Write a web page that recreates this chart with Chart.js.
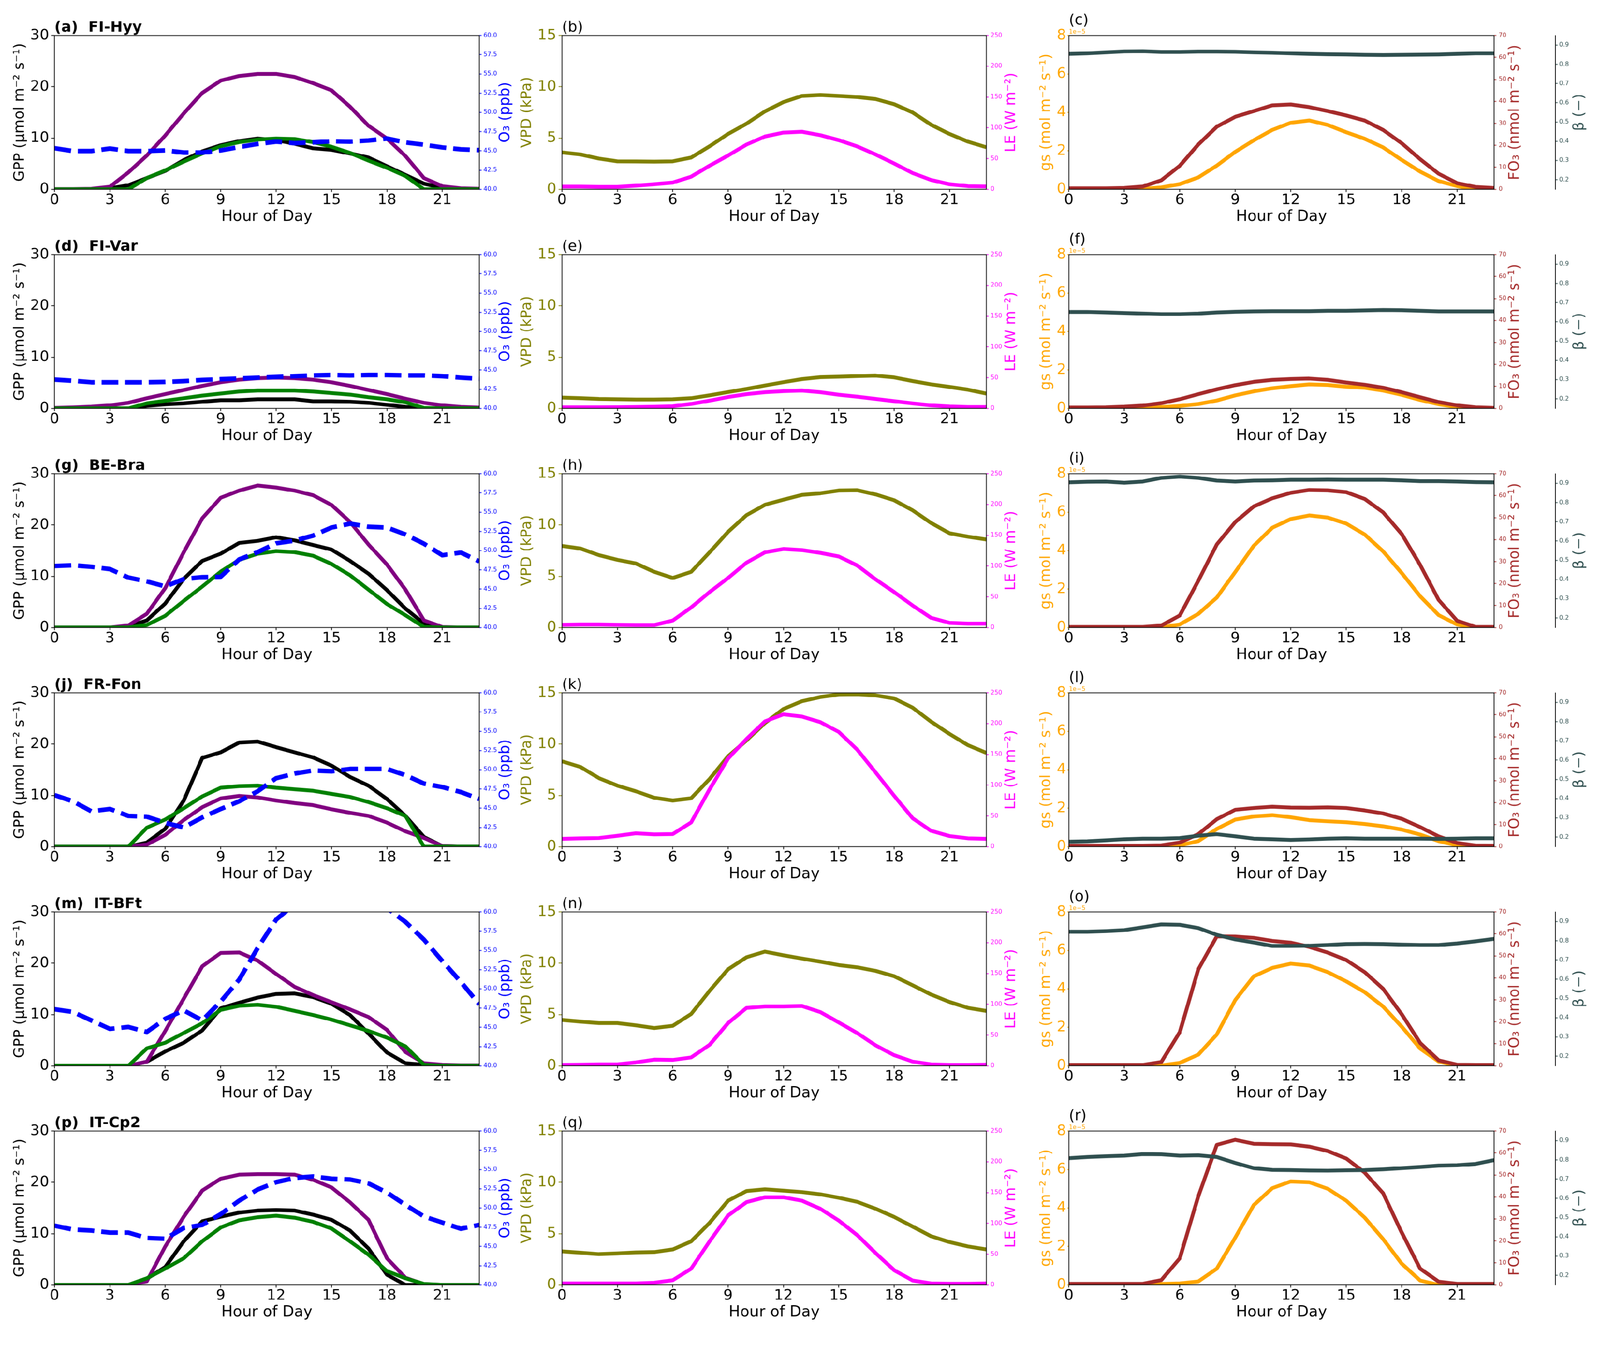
<!DOCTYPE html>
<html>
<head>
<meta charset="utf-8">
<script src="https://cdn.jsdelivr.net/npm/chart.js@4.4.1/dist/chart.umd.min.js"></script>
<style>
  html, body { margin: 0; padding: 0; background: #fff; overflow: hidden; }
  #fig { position: relative; width: 4205px; height: 3508px; overflow: hidden; background: #fff; transform-origin: 0 0; }
  #fig canvas { position: absolute; }
</style>
</head>
<body>
<div id="fig"></div>
<script>
/* Diurnal cycles per site: GPP + O3, VPD + LE, gs + FO3 + beta */

const HOURS = [0, 1, 2, 3, 4, 5, 6, 7, 8, 9, 10, 11, 12, 13, 14, 15, 16, 17, 18, 19, 20, 21, 22, 23];
const X_TICKS = [0, 3, 6, 9, 12, 15, 18, 21];
const SITES = ["FI-Hyy", "FI-Var", "BE-Bra", "FR-Fon", "IT-BFt", "IT-Cp2"];
const LETTERS = [["a", "b", "c"], ["d", "e", "f"], ["g", "h", "i"], ["j", "k", "l"], ["m", "n", "o"], ["p", "q", "r"]];

const GPP_TICKS = [0, 10, 20, 30];
const O3_TICKS = [40, 42.5, 45, 47.5, 50, 52.5, 55, 57.5, 60];
const VPD_TICKS = [0, 5, 10, 15];
const LE_TICKS = [0, 50, 100, 150, 200, 250];
const GS_TICKS = [0, 2, 4, 6, 8];
const FO3_TICKS = [0, 10, 20, 30, 40, 50, 60, 70];
const BETA_TICKS = [0.2, 0.3, 0.4, 0.5, 0.6, 0.7, 0.8, 0.9];

// GPP (umol m-2 s-1), one row per site in SITES order
const GPP_BLACK = [
  [0, 0, 0, 0.2, 0.8, 2.2, 3.6, 5.7, 7.4, 8.6, 9.4, 9.9, 9.6, 8.9, 8.0, 7.7, 7.0, 6.2, 4.5, 2.8, 1.1, 0.3, 0, 0],
  [0, 0, 0, 0, 0, 0.5, 0.8, 1.0, 1.3, 1.6, 1.6, 1.8, 1.8, 1.8, 1.4, 1.4, 1.3, 1.1, 0.7, 0.3, 0, 0, 0, 0],
  [0, 0, 0, 0, 0.2, 1.4, 4.7, 9.5, 13.0, 14.4, 16.5, 16.9, 17.6, 17.0, 16.1, 15.2, 13.0, 10.5, 7.3, 3.7, 0.8, 0, 0, 0],
  [0, 0, 0, 0, 0, 0.8, 3.5, 9.0, 17.3, 18.4, 20.3, 20.5, 19.4, 18.4, 17.4, 15.8, 13.6, 11.9, 9.3, 6.0, 1.9, 0.1, 0, 0],
  [0, 0, 0, 0, 0, 0.8, 2.8, 4.5, 6.9, 11.2, 12.3, 13.3, 14.0, 14.1, 13.4, 12.1, 9.9, 6.3, 2.6, 0.5, 0.2, 0, 0, 0],
  [0, 0, 0, 0, 0, 1.2, 3.5, 8.5, 12.4, 13.3, 14.1, 14.5, 14.6, 14.5, 13.7, 12.7, 10.6, 7.1, 2.0, 0, 0, 0, 0, 0],
];
const GPP_GREEN = [
  [0, 0, 0, 0, 0, 2.2, 3.7, 5.4, 7.0, 8.4, 9.2, 9.7, 9.9, 9.8, 9.2, 8.3, 7.1, 5.6, 4.2, 2.6, 0, 0, 0, 0],
  [0, 0, 0, 0, 0, 1.0, 1.5, 2.0, 2.5, 2.9, 3.3, 3.5, 3.5, 3.5, 3.3, 3.0, 2.7, 2.2, 1.8, 1.2, 0.1, 0, 0, 0],
  [0, 0, 0, 0, 0, 0.5, 2.3, 5.2, 8.0, 10.9, 13.2, 14.4, 14.9, 14.7, 14.0, 12.4, 10.2, 7.4, 4.6, 2.4, 0.1, 0, 0, 0],
  [0, 0, 0, 0, 0, 3.7, 5.3, 7.5, 9.8, 11.5, 11.8, 11.9, 11.5, 11.2, 10.9, 10.3, 9.7, 8.7, 7.5, 6.0, 0, 0, 0, 0],
  [0, 0, 0, 0, 0, 3.4, 4.5, 6.4, 8.3, 10.9, 11.7, 11.9, 11.5, 10.7, 9.9, 9.0, 7.9, 6.8, 5.5, 3.8, 0.2, 0, 0, 0],
  [0, 0, 0, 0, 0, 1.3, 3.2, 5.2, 8.5, 11.2, 12.6, 13.2, 13.5, 13.1, 12.3, 11.0, 8.5, 5.9, 2.7, 1.3, 0.2, 0, 0, 0],
];
const GPP_PURPLE = [
  [0.05, 0.05, 0.1, 0.5, 3.3, 6.6, 10.5, 14.8, 18.8, 21.2, 22.1, 22.5, 22.5, 21.9, 20.7, 19.3, 16.1, 12.4, 9.9, 6.5, 2.2, 0.6, 0.2, 0.1],
  [0.1, 0.2, 0.35, 0.6, 1.1, 2.0, 2.8, 3.6, 4.4, 5.1, 5.6, 5.9, 6.0, 5.9, 5.6, 5.1, 4.4, 3.6, 2.8, 1.9, 1.1, 0.6, 0.3, 0.15],
  [0, 0, 0, 0, 0.4, 2.7, 7.7, 14.7, 21.3, 25.3, 26.7, 27.7, 27.3, 26.7, 25.8, 23.9, 20.6, 16.2, 12.3, 7.4, 1.4, 0.1, 0, 0],
  [0, 0, 0, 0, 0, 0.4, 2.3, 5.2, 7.7, 9.4, 9.9, 9.6, 9.0, 8.5, 8.1, 7.3, 6.6, 6.0, 4.7, 3.0, 1.7, 0.1, 0, 0],
  [0, 0, 0, 0, 0, 0.8, 6.8, 13.1, 19.4, 22.0, 22.1, 20.5, 17.9, 15.4, 13.8, 12.4, 11.0, 9.5, 7.0, 2.7, 0.5, 0.2, 0.1, 0.1],
  [0, 0, 0, 0, 0, 0.7, 7.5, 13.3, 18.4, 20.7, 21.5, 21.6, 21.6, 21.5, 20.5, 19.0, 16.1, 12.7, 5.2, 1.4, 0.15, 0, 0, 0],
];
// O3 (ppb)
const O3 = [
  [45.35, 44.97, 44.97, 45.3, 44.97, 44.97, 45.06, 44.78, 44.78, 45.06, 45.5, 45.9, 46.2, 46.0, 46.1, 46.25, 46.2, 46.35, 46.6, 46.1, 45.8, 45.45, 45.2, 45.1],
  [43.75, 43.6, 43.4, 43.4, 43.4, 43.4, 43.45, 43.55, 43.7, 43.8, 43.9, 44.0, 44.1, 44.2, 44.3, 44.35, 44.3, 44.35, 44.35, 44.3, 44.3, 44.2, 44.0, 43.85],
  [48.0, 48.1, 47.9, 47.6, 46.5, 46.0, 45.35, 46.3, 46.55, 46.6, 48.85, 49.8, 50.95, 51.3, 51.95, 53.0, 53.5, 53.1, 53.0, 52.1, 50.9, 49.4, 49.75, 48.6],
  [46.7, 45.9, 44.6, 44.9, 44.0, 43.9, 43.1, 42.5, 43.8, 44.9, 45.9, 47.2, 48.9, 49.5, 49.9, 49.8, 50.1, 50.1, 50.1, 49.3, 48.2, 47.75, 47.1, 46.2],
  [47.35, 47.0, 45.9, 44.8, 45.05, 44.4, 46.1, 47.2, 45.9, 48.35, 51.2, 55.3, 59.0, 61.0, 62.5, 63.0, 63.0, 62.0, 60.5, 58.7, 56.4, 53.6, 50.9, 48.0],
  [47.7, 47.2, 47.07, 46.8, 46.8, 46.1, 46.0, 47.4, 47.8, 49.2, 50.95, 52.4, 53.35, 53.9, 54.1, 53.8, 53.7, 53.2, 52.0, 50.4, 48.9, 48.1, 47.3, 47.8],
];
// VPD (kPa)
const VPD = [
  [3.6, 3.4, 3.0, 2.73, 2.72, 2.7, 2.73, 3.1, 4.2, 5.4, 6.4, 7.6, 8.5, 9.1, 9.2, 9.1, 9.0, 8.8, 8.3, 7.5, 6.3, 5.4, 4.65, 4.1],
  [1.06, 1.0, 0.93, 0.9, 0.87, 0.87, 0.9, 1.0, 1.28, 1.6, 1.9, 2.24, 2.56, 2.86, 3.05, 3.1, 3.16, 3.2, 3.03, 2.67, 2.35, 2.1, 1.83, 1.45],
  [7.96, 7.7, 7.06, 6.6, 6.25, 5.43, 4.83, 5.43, 7.34, 9.33, 10.96, 11.97, 12.46, 12.93, 13.09, 13.36, 13.39, 12.98, 12.41, 11.43, 10.2, 9.19, 8.86, 8.59],
  [8.32, 7.77, 6.68, 5.95, 5.4, 4.77, 4.5, 4.72, 6.6, 8.81, 10.36, 12.05, 13.42, 14.18, 14.59, 14.84, 14.86, 14.75, 14.45, 13.55, 12.19, 10.99, 9.9, 9.14],
  [4.47, 4.31, 4.17, 4.17, 3.95, 3.68, 3.9, 5.05, 7.31, 9.41, 10.58, 11.13, 10.77, 10.45, 10.15, 9.82, 9.6, 9.25, 8.73, 7.85, 6.95, 6.22, 5.65, 5.35],
  [3.27, 3.14, 3.0, 3.07, 3.17, 3.2, 3.46, 4.25, 6.05, 8.21, 9.15, 9.32, 9.19, 9.05, 8.83, 8.5, 8.1, 7.42, 6.63, 5.69, 4.75, 4.18, 3.75, 3.46],
];
// LE (W m-2)
const LE = [
  [4.5, 4.5, 4, 4, 5.9, 8.3, 11, 20.6, 38.4, 55, 72.8, 85.8, 92.2, 93.6, 88, 79.9, 69.7, 56.6, 42, 26.5, 15.2, 8.3, 5.2, 4.7],
  [1.8, 1.8, 1.8, 2.0, 2.3, 2.7, 3.6, 7.3, 12.7, 18.6, 23.2, 26.4, 28.2, 29.1, 26.4, 22.3, 19.1, 15.5, 11.8, 8.2, 5.0, 3.2, 2.3, 2.3],
  [4.5, 5, 5, 4.5, 4.1, 4.1, 11.4, 32.7, 57.7, 80.5, 105.5, 122.3, 127.7, 125.9, 121.4, 115.5, 100.9, 78.2, 57.7, 35.9, 15.9, 7.7, 6.4, 6.4],
  [12.7, 13.6, 14.1, 17.7, 21.8, 20, 20.5, 39.5, 93.2, 143.2, 175, 203.6, 215, 211.4, 202.3, 186.4, 157.7, 120.5, 82.7, 46.4, 25.9, 17.3, 13.6, 12.7],
  [1.4, 1.8, 2.3, 2.3, 5.5, 10, 9.5, 13.6, 34.1, 69.5, 94.1, 96.4, 96.4, 97.3, 87.3, 70.5, 53.2, 33.2, 17.3, 6.8, 2.3, 1.4, 1.4, 1.8],
  [2.4, 2.4, 2.4, 2.4, 2.4, 3.6, 7.7, 26.4, 70.8, 112.9, 134.5, 142.4, 142.4, 136.9, 123.7, 104.5, 80.9, 51.6, 24, 7.2, 2.4, 1.9, 1.9, 2.4],
];
// gs in units of 1e-5 mol m-2 s-1
const GS_E5 = [
  [0, 0, 0, 0, 0.02, 0.1, 0.27, 0.62, 1.23, 1.95, 2.55, 3.09, 3.46, 3.58, 3.35, 2.97, 2.63, 2.18, 1.53, 0.92, 0.43, 0.17, 0, 0],
  [0, 0, 0, 0, 0.01, 0.07, 0.13, 0.23, 0.41, 0.68, 0.89, 1.05, 1.16, 1.25, 1.22, 1.13, 1.08, 0.93, 0.71, 0.44, 0.22, 0.07, 0.01, 0],
  [0, 0, 0, 0, 0, 0.01, 0.16, 0.71, 1.56, 2.89, 4.25, 5.19, 5.64, 5.83, 5.72, 5.41, 4.84, 3.96, 2.84, 1.63, 0.65, 0.16, 0, 0],
  [0, 0, 0, 0, 0, 0, 0.07, 0.29, 0.92, 1.41, 1.57, 1.64, 1.53, 1.38, 1.32, 1.27, 1.18, 1.06, 0.89, 0.63, 0.29, 0.07, 0, 0],
  [0, 0, 0, 0, 0, 0.02, 0.15, 0.58, 1.63, 3.42, 4.65, 5.09, 5.31, 5.21, 4.87, 4.39, 3.83, 3.08, 2.04, 0.9, 0.22, 0, 0, 0],
  [0, 0, 0, 0, 0, 0.05, 0.08, 0.18, 0.85, 2.46, 4.15, 5.03, 5.38, 5.34, 5.0, 4.38, 3.5, 2.38, 1.11, 0.23, 0, 0, 0, 0],
];
// FO3 (nmol m-2 s-1)
const FO3 = [
  [0.45, 0.45, 0.45, 0.65, 1.3, 4.1, 10.7, 20.4, 28.5, 33.0, 35.6, 38.2, 38.6, 37.4, 35.6, 33.6, 31.3, 27.0, 21.0, 13.7, 7.1, 2.8, 1.1, 0.6],
  [0.4, 0.4, 0.5, 0.8, 1.3, 2.4, 4.2, 6.5, 8.7, 10.6, 12.1, 13.0, 13.4, 13.6, 13.0, 11.8, 10.8, 9.4, 7.4, 5.1, 2.9, 1.4, 0.5, 0.25],
  [0.3, 0.3, 0.3, 0.3, 0.3, 0.9, 5.5, 21.3, 37.8, 48.0, 55.1, 58.8, 61.3, 62.6, 62.4, 61.6, 58.5, 52.4, 42.6, 28.5, 12.6, 3.1, 0.3, 0.3],
  [0.4, 0.4, 0.4, 0.4, 0.4, 0.6, 1.9, 5.7, 12.5, 16.8, 17.6, 18.2, 17.8, 17.7, 17.9, 17.6, 16.5, 15.1, 12.7, 8.9, 4.7, 1.7, 0.5, 0.4],
  [0.4, 0.4, 0.4, 0.4, 0.4, 1.7, 15.3, 43.9, 58.9, 58.8, 58.2, 56.8, 56.0, 54.1, 51.5, 48.1, 42.6, 35.0, 23.5, 10.4, 2.5, 0.5, 0.4, 0.4],
  [0.5, 0.5, 0.5, 0.5, 0.5, 2.2, 12.1, 40.3, 63.7, 66.0, 64.2, 64.0, 63.9, 62.9, 60.9, 57.5, 51.1, 41.7, 23.9, 7.4, 1.5, 0.5, 0.5, 0.5],
];
// beta (-)
const BETA = [
  [0.854, 0.857, 0.862, 0.867, 0.868, 0.864, 0.864, 0.866, 0.866, 0.865, 0.862, 0.86, 0.857, 0.854, 0.852, 0.851, 0.849, 0.848, 0.849, 0.85, 0.851, 0.854, 0.857, 0.857],
  [0.652, 0.652, 0.649, 0.646, 0.643, 0.64, 0.64, 0.643, 0.649, 0.653, 0.655, 0.656, 0.656, 0.656, 0.658, 0.658, 0.66, 0.662, 0.661, 0.658, 0.655, 0.655, 0.655, 0.655],
  [0.905, 0.908, 0.909, 0.903, 0.909, 0.928, 0.935, 0.928, 0.914, 0.909, 0.914, 0.915, 0.918, 0.918, 0.919, 0.918, 0.918, 0.918, 0.915, 0.911, 0.911, 0.909, 0.906, 0.905],
  [0.176, 0.178, 0.183, 0.189, 0.192, 0.192, 0.195, 0.207, 0.215, 0.204, 0.192, 0.189, 0.185, 0.188, 0.192, 0.194, 0.192, 0.192, 0.192, 0.192, 0.191, 0.192, 0.194, 0.194],
  [0.847, 0.847, 0.85, 0.855, 0.87, 0.885, 0.883, 0.866, 0.831, 0.807, 0.791, 0.773, 0.773, 0.774, 0.778, 0.783, 0.784, 0.783, 0.78, 0.778, 0.778, 0.786, 0.797, 0.81],
  [0.809, 0.815, 0.819, 0.822, 0.83, 0.829, 0.822, 0.824, 0.815, 0.784, 0.757, 0.748, 0.747, 0.745, 0.744, 0.746, 0.747, 0.751, 0.757, 0.763, 0.77, 0.772, 0.779, 0.799],
];

const C = {
  black: "#000000", green: "#008000", purple: "#800080", blue: "#0000ff",
  olive: "#808000", magenta: "#ff00ff", orange: "#ffa500", brown: "#a52a2a", slate: "#2f4f4f",
};

// page geometry (px, in the 4205 x 3508 figure frame)
const FIG_W = 4205;
const FIG_H = 3508;
const ROW_TOP = [93, 669, 1245, 1821, 2397, 2973];
const PLOT_H = 404;
const PAD_TOP = 90;
const X_AXIS_H = 93;
const COL_GPP = { left: 0, width: 1400 };
const COL_MET = { left: 1340, width: 1340 };
const COL_FLX = { left: 2690, width: 1515 };

// fit the figure to the real viewport if it is not exactly FIG_W x FIG_H
let fit = Math.min(window.innerWidth / FIG_W, window.innerHeight / FIG_H);
if (!(fit > 0) || Math.abs(fit - 1) < 0.002) fit = 1;
document.getElementById("fig").style.transform = `scale(${fit})`;
const DPR = (window.devicePixelRatio || 1) * fit;

Chart.defaults.font.family = "'DejaVu Sans', sans-serif";
Chart.defaults.color = "#000";

function line(values, axisId, color, width, dash) {
  return {
    data: HOURS.map((h, i) => ({ x: h, y: values[i] })),
    yAxisID: axisId,
    borderColor: color,
    borderWidth: width,
    borderDash: dash || [],
    borderJoinStyle: "round",
    pointRadius: 0,
    tension: 0,
    fill: false,
    clip: 0,
  };
}

function xAxis() {
  return {
    type: "linear", position: "bottom", min: 0, max: 23,
    afterBuildTicks: (s) => { s.ticks = X_TICKS.map((v) => ({ value: v })); },
    afterFit: (s) => { s.height = X_AXIS_H; },
    border: { display: false },
    grid: { drawOnChartArea: false, tickLength: 7, tickWidth: 2, tickColor: "#000" },
    ticks: { color: "#000", font: { size: 39, lineHeight: 1 }, padding: 2, maxRotation: 0, autoSkip: false, callback: (v) => String(v) },
    title: { display: true, text: "Hour of Day", color: "#000", font: { size: 40, lineHeight: 1 }, padding: 0 },
  };
}

function yAxis(position, min, max, tickVals, o) {
  return {
    type: "linear", position, min, max, weight: o.weight || 0,
    afterBuildTicks: (s) => { s.ticks = tickVals.map((v) => ({ value: v })); },
    afterFit: (s) => { s.width = o.width; },
    border: { display: !!o.spine, color: "#000", width: 2 },
    grid: { drawOnChartArea: false, tickLength: o.tickLen, tickWidth: 2, tickColor: o.color },
    ticks: { color: o.color, font: { size: o.size, lineHeight: 1 }, padding: o.pad, callback: o.fmt || ((v) => String(v)) },
    title: o.title
      ? { display: true, text: o.title, color: o.color, font: { size: 38, lineHeight: 1 }, padding: { top: o.titlePad, bottom: 0 } }
      : { display: false },
  };
}

function panelText(items, offsetX) {
  return {
    id: "panelText",
    afterDraw(chart) {
      const { ctx, chartArea: a } = chart;
      ctx.save();
      ctx.strokeStyle = "#000";
      ctx.lineWidth = 2;
      ctx.strokeRect(a.left, a.top, a.right - a.left, a.bottom - a.top);
      for (const t of items) {
        ctx.font = `${t.bold ? "bold " : ""}${t.size}px 'DejaVu Sans'`;
        ctx.fillStyle = t.color;
        if (t.rotate) {
          ctx.save();
          ctx.translate(t.x - offsetX, (a.top + a.bottom) / 2);
          ctx.rotate(-Math.PI / 2);
          ctx.textAlign = "center";
          ctx.textBaseline = "middle";
          ctx.fillText(t.text, 0, 0);
          ctx.restore();
        } else {
          ctx.textAlign = "left";
          ctx.textBaseline = "alphabetic";
          ctx.fillText(t.text, a.left, a.top - t.dy);
        }
      }
      ctx.restore();
    },
  };
}

function makeChart(col, row, datasets, scales, texts) {
  const h = PAD_TOP + PLOT_H + X_AXIS_H;
  const canvas = document.createElement("canvas");
  canvas.width = col.width;
  canvas.height = h;
  canvas.style.left = col.left + "px";
  canvas.style.top = (ROW_TOP[row] - PAD_TOP) + "px";
  canvas.style.width = col.width + "px";
  canvas.style.height = h + "px";
  document.getElementById("fig").appendChild(canvas);
  return new Chart(canvas, {
    type: "line",
    data: { datasets },
    options: {
      responsive: false,
      animation: false,
      devicePixelRatio: DPR,
      events: [],
      layout: { padding: { top: PAD_TOP, left: 0, right: 0, bottom: 0 } },
      plugins: { legend: { display: false }, tooltip: { enabled: false } },
      scales,
    },
    plugins: [panelText(texts, col.left)],
  });
}

function gppPanel(r) {
  const datasets = [
    line(O3[r], "yO3", C.blue, 12, [44, 18]),
    line(GPP_GREEN[r], "y", C.green, 10),
    line(GPP_PURPLE[r], "y", C.purple, 10),
    line(GPP_BLACK[r], "y", C.black, 10),
  ];
  const scales = {
    x: xAxis(),
    y: yAxis("left", 0, 30, GPP_TICKS, { width: 143, tickLen: 9, pad: 5, size: 39, color: "#000", title: "GPP (μmol m⁻² s⁻¹)", titlePad: 34 }),
    yO3: yAxis("right", 40, 60, O3_TICKS, { width: 141, tickLen: 6, pad: 5, size: 16, color: C.blue, fmt: (v) => v.toFixed(1) }),
  };
  const texts = [
    { text: `(${LETTERS[r][0]})  ${SITES[r]}`, bold: true, size: 39, color: "#000", dy: 10 },
    { text: "O₃ (ppb)", size: 38, color: C.blue, rotate: true, x: 1328 },
  ];
  makeChart(COL_GPP, r, datasets, scales, texts);
}

function metPanel(r) {
  const datasets = [
    line(LE[r], "yLE", C.magenta, 10),
    line(VPD[r], "y", C.olive, 10),
  ];
  const scales = {
    x: xAxis(),
    y: yAxis("left", 0, 15, VPD_TICKS, { width: 137, tickLen: 9, pad: 6, size: 39, color: C.olive, title: "VPD (kPa)", titlePad: 27 }),
    yLE: yAxis("right", 0, 250, LE_TICKS, { width: 88, tickLen: 6, pad: 5, size: 16, color: C.magenta }),
  };
  const texts = [
    { text: `(${LETTERS[r][1]})`, size: 39, color: "#000", dy: 10 },
    { text: "LE (W m⁻²)", size: 38, color: C.magenta, rotate: true, x: 2658 },
  ];
  makeChart(COL_MET, r, datasets, scales, texts);
}

function fluxPanel(r) {
  const datasets = [
    line(BETA[r], "yB", C.slate, 10),
    line(FO3[r], "yF", C.brown, 10),
    line(GS_E5[r], "y", C.orange, 10),
  ];
  const scales = {
    x: xAxis(),
    y: yAxis("left", 0, 8, GS_TICKS, { width: 119, tickLen: 4, pad: 3, size: 39, color: C.orange, title: "gs (mol m⁻² s⁻¹)", titlePad: 41 }),
    yF: yAxis("right", 0, 70, FO3_TICKS, { width: 161, tickLen: 6, pad: 6, size: 16, color: C.brown, weight: 0 }),
    yB: yAxis("right", 0.15, 0.95, BETA_TICKS, { width: 118, tickLen: 6, pad: 4, size: 16, color: C.slate, weight: 1, spine: true, fmt: (v) => v.toFixed(1) }),
  };
  const texts = [
    { text: `(${LETTERS[r][2]})`, size: 39, color: "#000", dy: 28 },
    { text: "1e−5", size: 16, color: C.orange, dy: 5 },
    { text: "FO₃ (nmol m⁻² s⁻¹)", size: 38, color: C.brown, rotate: true, x: 3981 },
    { text: "β (−)", size: 38, color: C.slate, rotate: true, x: 4150 },
  ];
  makeChart(COL_FLX, r, datasets, scales, texts);
}

for (let r = 0; r < SITES.length; r++) {
  gppPanel(r);
  metPanel(r);
  fluxPanel(r);
}
</script>
</body>
</html>
